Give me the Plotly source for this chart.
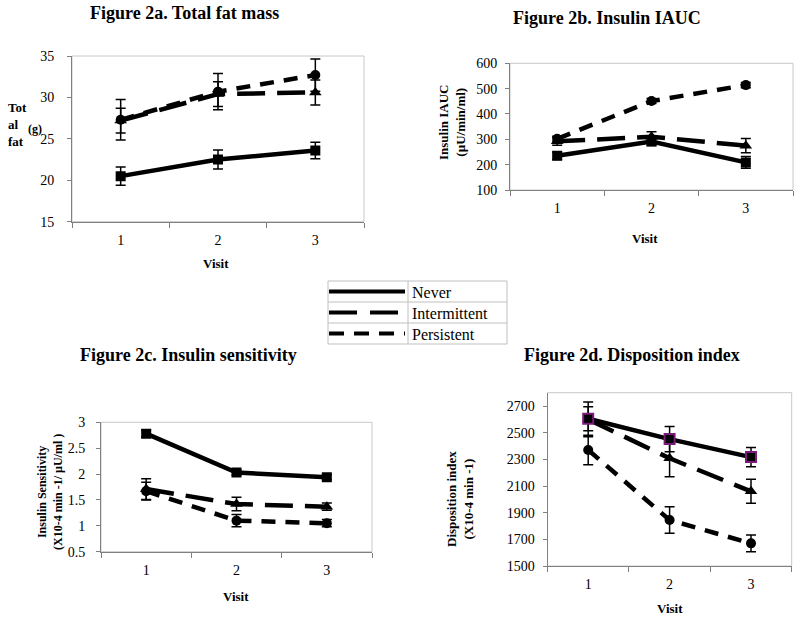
import plotly.graph_objects as go

# ---------------- data ----------------
visits = [1, 2, 3]
visit_labels = ["1", "2", "3"]
groups = ["Never", "Intermittent", "Persistent"]

fat_never = [20.5, 22.5, 23.6]
fat_never_err = [1.1, 1.15, 1.0]
fat_interm = [27.2, 30.4, 30.6]
fat_interm_err = [1.5, 1.5, 1.5]
fat_persist = [27.3, 30.7, 32.7]
fat_persist_err = [2.45, 2.2, 1.95]

iauc_never = [235, 291, 209]
iauc_never_err = [15, 15, 23]
iauc_interm = [292, 310, 275]
iauc_interm_err = [15, 20, 28]
iauc_persist = [302, 451, 514]
iauc_persist_err = [10, 10, 10]

si_never = [2.78, 2.03, 1.94]
si_never_err = [0.07, 0.05, 0.05]
si_interm = [1.71, 1.42, 1.37]
si_interm_err = [0.2, 0.13, 0.07]
si_persist = [1.67, 1.10, 1.05]
si_persist_err = [0.17, 0.12, 0.07]

di_never = [2605, 2452, 2317]
di_never_err = [90, 95, 72]
di_interm = [2600, 2308, 2060]
di_interm_err = [130, 138, 90]
di_persist = [2370, 1845, 1670]
di_persist_err = [110, 100, 63]

panel_titles = ["Figure 2a. Total fat mass", "Figure 2b. Insulin IAUC",
                "Figure 2c. Insulin sensitivity", "Figure 2d. Disposition index"]

# ---------------- styling ----------------
W, H = 800, 618
FONT = "Liberation Serif, Times New Roman, serif"
symbols = {"Never": "square", "Intermittent": "triangle-up", "Persistent": "circle"}
dashes = {"Never": "solid", "Intermittent": "28px,12px", "Persistent": "14px,10px"}
msize = {"Never": 10, "Intermittent": 11, "Persistent": 10}


def px(x):
    return x / W


def py(y):
    return 1 - y / H


panels = [
    dict(data={"Never": (fat_never, fat_never_err), "Intermittent": (fat_interm, fat_interm_err),
               "Persistent": (fat_persist, fat_persist_err)},
         xdom=(72, 364), ydom=(56, 221.7), yrange=(15, 35), dtick=5, standoff=10),
    dict(data={"Never": (iauc_never, iauc_never_err), "Intermittent": (iauc_interm, iauc_interm_err),
               "Persistent": (iauc_persist, iauc_persist_err)},
         xdom=(510, 793), ydom=(63.3, 190), yrange=(100, 600), dtick=100, standoff=5),
    dict(data={"Never": (si_never, si_never_err), "Intermittent": (si_interm, si_interm_err),
               "Persistent": (si_persist, si_persist_err)},
         xdom=(101, 372), ydom=(422.3, 551.7), yrange=(0.5, 3), dtick=0.5, standoff=8),
    dict(data={"Never": (di_never, di_never_err), "Intermittent": (di_interm, di_interm_err),
               "Persistent": (di_persist, di_persist_err)},
         xdom=(547.5, 791.7), ydom=(392.7, 566), yrange=(1500, 2800), dtick=200, standoff=5),
]

fig = go.Figure()
layout = {}
shapes = []
draw_order = ["Intermittent", "Persistent", "Never"]

for i, p in enumerate(panels):
    n = "" if i == 0 else str(i + 1)
    xa, ya = "x" + n, "y" + n
    for g in draw_order:
        vals, errs = p["data"][g]
        mline = dict(width=0)
        if i == 3 and g == "Never":
            mline = dict(color="#7a1a7a", width=2)
        fig.add_trace(go.Scatter(
            x=visits, y=vals, name=g, mode="lines+markers", showlegend=False,
            xaxis=xa, yaxis=ya,
            line=dict(color="black", width=4.5, dash=dashes[g]),
            marker=dict(symbol=symbols[g], size=msize[g], color="black", line=mline),
            error_y=dict(type="data", array=errs, color="black", thickness=1.5, width=5),
        ))
    layout["xaxis" + n] = dict(
        domain=[px(p["xdom"][0]), px(p["xdom"][1])], anchor=ya, range=[0.5, 3.5],
        tickmode="array", tickvals=visits, ticktext=visit_labels, ticks="",
        minor=dict(tickmode="array", tickvals=[0.5, 1.5, 2.5, 3.5], ticks="outside",
                   ticklen=5, tickcolor="#808080", tickwidth=1, showgrid=False),
        showline=True, linecolor="#808080", linewidth=1, showgrid=False, zeroline=False,
        tickfont=dict(family=FONT, size=14, color="black"), ticklabelstandoff=5,
        automargin=False, fixedrange=True,
    )
    layout["yaxis" + n] = dict(
        domain=[py(p["ydom"][1]), py(p["ydom"][0])], anchor=xa, range=list(p["yrange"]),
        tickmode="linear", tick0=p["yrange"][0], dtick=p["dtick"], ticks="outside", ticklen=4,
        tickcolor="#808080", showline=True, linecolor="#808080", linewidth=1,
        showgrid=False, zeroline=False, tickfont=dict(family=FONT, size=14, color="black"),
        ticklabelstandoff=p["standoff"], automargin=False, fixedrange=True,
    )
    shapes.append(dict(type="rect", xref=xa + " domain", yref=ya + " domain",
                       x0=0, x1=1, y0=0, y1=1, line=dict(color="#c8c8c8", width=1),
                       layer="below"))

annotations = []


def ann(text, x, y, size, bold=True, angle=0, xanchor="center", align="center"):
    t = "<b>" + text + "</b>" if bold else text
    annotations.append(dict(text=t, x=px(x), y=py(y), xref="paper", yref="paper",
                            showarrow=False, textangle=angle, xanchor=xanchor,
                            yanchor="middle", align=align,
                            font=dict(family=FONT, size=size, color="black")))


# panel titles
ann(panel_titles[0], 184, 13, 18)
ann(panel_titles[1], 607, 18, 18)
ann(panel_titles[2], 188, 355, 18)
ann(panel_titles[3], 632, 355, 18)

# x-axis titles
ann("Visit", 216, 263, 13)
ann("Visit", 645, 238, 13)
ann("Visit", 236, 596, 13)
ann("Visit", 670, 608, 13)

# y-axis titles
annotations.append(dict(text="<b>Tot<br>al<br>fat</b>", x=px(6), y=py(124), xref="paper",
                        yref="paper", showarrow=False, xanchor="left", yanchor="middle",
                        align="left", font=dict(family=FONT, size=13, color="black")))
ann("(g)", 26, 129, 12, xanchor="left")
ann("Insulin IAUC<br>(µU/min/ml)", 452, 122, 13, angle=-90)
ann("Insulin Sensitivity<br>(X10-4 min -1/ µU/ml )", 50, 492, 12, angle=-90)
ann("Disposition index<br>(X10-4 min -1)", 460, 499, 13, angle=-90)

# ---------------- legend (table style) ----------------
lx0, lx1, ldiv = 328, 507, 408
row_edges = [281, 302, 323, 344]
grid = dict(color="#c0c0c0", width=1)
shapes.append(dict(type="rect", xref="paper", yref="paper", x0=px(lx0), x1=px(lx1),
                   y0=py(row_edges[-1]), y1=py(row_edges[0]), line=grid))
shapes.append(dict(type="line", xref="paper", yref="paper", x0=px(ldiv), x1=px(ldiv),
                   y0=py(row_edges[-1]), y1=py(row_edges[0]), line=grid))
for e in row_edges[1:-1]:
    shapes.append(dict(type="line", xref="paper", yref="paper", x0=px(lx0), x1=px(lx1),
                       y0=py(e), y1=py(e), line=grid))
legend_dash = {"Never": "solid", "Intermittent": "28px,13px", "Persistent": "15px,10px"}
for k, g in enumerate(groups):
    yc = (row_edges[k] + row_edges[k + 1]) / 2
    shapes.append(dict(type="line", xref="paper", yref="paper", x0=px(lx0 + 1), x1=px(ldiv - 3),
                       y0=py(yc), y1=py(yc),
                       line=dict(color="black", width=4, dash=legend_dash[g])))
    ann(g, ldiv + 2, yc + 1, 16, bold=False, xanchor="left")

layout.update(dict(
    template="none",
    width=W, height=H, autosize=False,
    margin=dict(l=0, r=0, t=0, b=0, pad=0),
    paper_bgcolor="white", plot_bgcolor="white",
    showlegend=False, shapes=shapes, annotations=annotations,
    font=dict(family=FONT, color="black"),
))
fig.update_layout(**layout)
fig.write_html("out.html",
               config={"displayModeBar": False},
               post_script="document.body.style.margin='0px';"
                           "document.body.style.overflow='hidden';")
